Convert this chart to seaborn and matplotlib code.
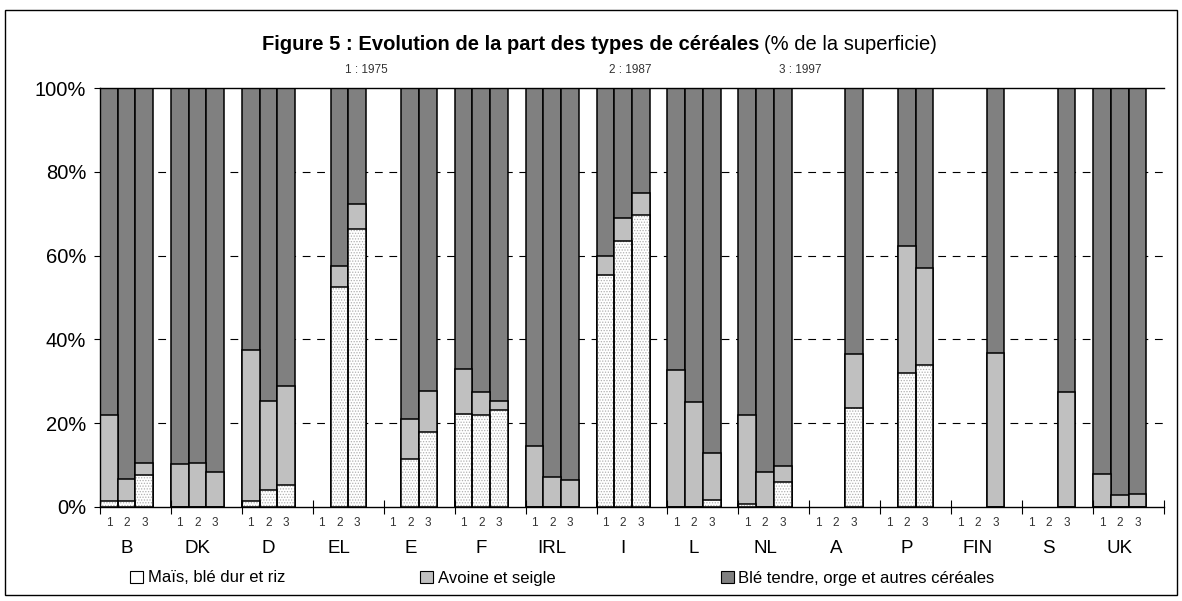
import numpy as np
import pandas as pd
import seaborn as sns
import matplotlib
matplotlib.use("Agg")
import matplotlib.pyplot as plt
from matplotlib.patches import Patch, Rectangle
from matplotlib.transforms import blended_transform_factory

# Figure 5 : part des types de cereales (% de la superficie), 1975 / 1987 / 1997
countries = ["B", "DK", "D", "EL", "E", "F", "IRL", "I", "L", "NL", "A", "P", "FIN", "S", "UK"]
years = ["1", "2", "3"]

nan = np.nan
# mais, ble dur et riz
mais_1975 = [1.4, 0.0, 1.4, nan, nan, 22.2, 0.0, 55.4, 0.0, 0.6, nan, nan, nan, nan, 0.0]
mais_1987 = [1.4, 0.0, 4.0, 52.4, 11.4, 21.9, 0.0, 63.6, 0.0, 0.0, nan, 32.0, nan, nan, 0.0]
mais_1997 = [7.6, 0.0, 5.2, 66.3, 17.9, 23.2, 0.0, 69.8, 1.6, 6.0, 23.6, 33.8, 0.0, 0.0, 0.0]
# avoine et seigle
avoine_1975 = [20.5, 10.2, 36.0, nan, nan, 10.8, 14.6, 4.6, 32.6, 21.4, nan, nan, nan, nan, 7.8]
avoine_1987 = [5.4, 10.6, 21.2, 5.1, 9.6, 5.5, 7.2, 5.4, 25.0, 8.4, nan, 30.4, nan, nan, 2.8]
avoine_1997 = [3.0, 8.4, 23.6, 5.9, 9.8, 2.1, 6.4, 5.2, 11.4, 3.8, 12.8, 23.2, 36.8, 27.4, 3.2]
# ble tendre, orge et autres cereales
ble_1975 = [78.1, 89.8, 62.6, nan, nan, 67.0, 85.4, 40.0, 67.4, 78.0, nan, nan, nan, nan, 92.2]
ble_1987 = [93.2, 89.4, 74.8, 42.5, 79.0, 72.6, 92.8, 31.0, 75.0, 91.6, nan, 37.6, nan, nan, 97.2]
ble_1997 = [89.4, 91.6, 71.2, 27.8, 72.3, 74.7, 93.6, 25.0, 87.0, 90.2, 63.6, 43.0, 63.2, 72.6, 96.8]

col_mais = "white"
col_avoine = "#c0c0c0"
col_ble = "#808080"

rows = []
for g, c in enumerate(countries):
    series = [(mais_1975, avoine_1975, ble_1975),
              (mais_1987, avoine_1987, ble_1987),
              (mais_1997, avoine_1997, ble_1997)]
    for j, (m, a, b) in enumerate(series):
        if np.isnan(m[g]):
            continue
        rows.append(dict(pos=4 * g + j, country=c, year=years[j],
                         mais=m[g], avoine=a[g], ble=b[g]))
df = pd.DataFrame(rows)
df["top_avoine"] = df["mais"] + df["avoine"]
df["top_ble"] = df["top_avoine"] + df["ble"]

plt.rcParams["font.family"] = ["Liberation Sans", "DejaVu Sans"]
plt.rcParams["hatch.linewidth"] = 0.6

fig = plt.figure(figsize=(11.82, 6.01), dpi=100)
# 4 slots per country (3 years + one empty slot)
ax = fig.add_axes([100 / 1182, 94 / 601, 1064 / 1182, 419 / 601])

bar_kw = dict(native_scale=True, width=1.0, errorbar=None, saturation=1, ax=ax)
sns.barplot(data=df, x="pos", y="top_ble", color=col_ble,
            edgecolor="black", linewidth=1.1, **bar_kw)
sns.barplot(data=df, x="pos", y="top_avoine", color=col_avoine,
            edgecolor="black", linewidth=1.1, **bar_kw)
sns.barplot(data=df, x="pos", y="mais", color=col_mais,
            edgecolor="#b0b0b0", linewidth=0, hatch="......", **bar_kw)
sns.barplot(data=df, x="pos", y="mais", color="black", fill=False,
            linewidth=1.1, **bar_kw)

# grid
for yv in [20, 40, 60, 80]:
    ax.axhline(yv, color="black", lw=0.8, ls=(0, (7, 6)), zorder=0)
ax.set_ylim(0, 100)
ax.set_xlim(-0.5, 4 * len(countries) - 0.5)
ax.set_yticks(np.arange(0, 101, 20))
ax.set_yticklabels([f"{v}%" for v in range(0, 101, 20)], fontsize=14.5)
ax.tick_params(axis="y", length=4, width=0.8, pad=6)

slot_pos = [4 * g + j for g in range(len(countries)) for j in range(3)]
ax.set_xticks(slot_pos)
ax.set_xticklabels(years * len(countries), fontsize=8.5, color="#333333")
ax.tick_params(axis="x", which="major", length=0, pad=7)
ax.set_xticks([4 * g - 0.5 for g in range(len(countries) + 1)], minor=True)
ax.tick_params(axis="x", which="minor", length=10, direction="inout", width=0.8)
ax.set_xlabel("")
ax.set_ylabel("")

trans = blended_transform_factory(ax.transData, ax.transAxes)
for g, c in enumerate(countries):
    ax.text(4 * g + 1, -0.098, c, transform=trans, ha="center", va="center", fontsize=13.5)

ax.spines["right"].set_visible(False)
for s in ["left", "bottom", "top"]:
    ax.spines[s].set_linewidth(1.0)

# title
fig.text(759 / 1182, 1 - 44 / 601, "Figure 5 : Evolution de la part des types de céréales",
         ha="right", va="center", fontsize=14.5, fontweight="bold")
fig.text(764 / 1182, 1 - 44 / 601, "(% de la superficie)",
         ha="left", va="center", fontsize=14.5)
for xp, lab in [(366, "1 : 1975"), (630, "2 : 1987"), (800, "3 : 1997")]:
    fig.text(xp / 1182, 1 - 70 / 601, lab, ha="center", va="center", fontsize=8.5, color="#333333")

labels = ["Maïs, blé dur et riz", "Avoine et seigle", "Blé tendre, orge et autres céréales"]
colors = [col_mais, col_avoine, col_ble]
x_leg = [130, 420, 721]
for lab, col, xl in zip(labels, colors, x_leg):
    fig.legend([Patch(facecolor=col, edgecolor="black", lw=0.8)], [lab],
               loc="center left", bbox_to_anchor=(xl / 1182, 1 - 578 / 601),
               frameon=False, fontsize=12, handlelength=0.75, handleheight=0.75,
               handletextpad=0.3, borderaxespad=0, borderpad=0)

fig.add_artist(Rectangle((5 / 1182, 6 / 601), 1172 / 1182, 585 / 601,
                         transform=fig.transFigure, fill=False, lw=1.0, color="black"))

fig.savefig("out.png", dpi=100)
